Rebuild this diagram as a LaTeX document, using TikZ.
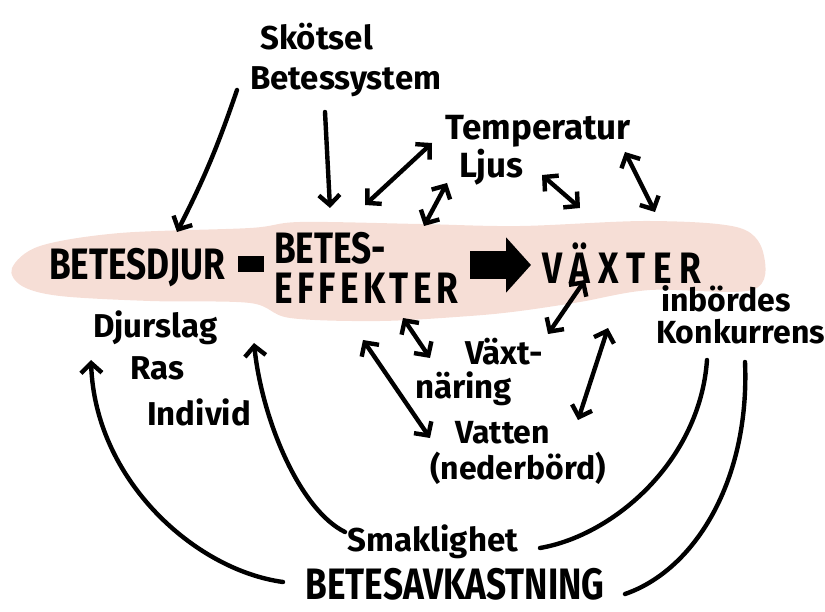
\documentclass[tikz,border=0pt]{standalone}
\usepackage{fontspec}
\setmainfont{Fira Sans}
\newfontfamily\capfont{Fira Sans}[FakeStretch=0.8]
\usetikzlibrary{arrows.meta}
\definecolor{bandpink}{RGB}{246,222,214}
\tikzset{
  lbl/.style={font=\fontsize{33}{40}\selectfont\bfseries, inner sep=0pt, align=left},
  capbox/.style={font=\capfont\fontsize{44}{40}\selectfont\bfseries, inner sep=0pt, align=left},
  arr/.style={line width=4.4pt, line cap=round, -{Straight Barb[length=10pt,width=21pt]}},
  darr/.style={line width=4.4pt, line cap=round, {Straight Barb[length=10pt,width=21pt]}-{Straight Barb[length=10pt,width=21pt]}},
  plainline/.style={line width=4.4pt, line cap=round}
}
\begin{document}
\begin{tikzpicture}[x=1pt,y=-1pt]
\useasboundingbox (0,0) rectangle (825,612);
% pink band
\fill[bandpink] plot[smooth cycle, tension=0.55] coordinates {
  (12,268) (40,246) (120,233) (250,228) (300,222) (420,224) (520,226)
  (650,221) (740,228) (764,256) (752,290) (650,290) (580,302) (520,311)
  (470,316) (380,321) (290,318) (250,303) (150,301) (60,296) (22,286)};
% nodes
\node[lbl, anchor=west] (skotsel) at (250,60) {\hspace*{10pt}Skötsel\\Betessystem};
\node[capbox] (djur) at (137,268) {BETESDJUR};
\node[capbox, anchor=west] (eff) at (274,268) {BETES-\\\addfontfeature{LetterSpace=10}EFFEKTER};
\node[capbox] (vax) at (622,263) {\addfontfeature{LetterSpace=18}VÄXTER};
\node[lbl, font=\fontsize{35}{38}\selectfont\bfseries, anchor=west] (temp) at (445,150) {Temperatur\\\hspace*{14pt}Ljus};
\node[lbl, anchor=west, font=\fontsize{32}{32}\selectfont\bfseries] (konk) at (656,315) {\hspace*{5pt}inbördes\\Konkurrens};
\node[lbl, anchor=west] (djurslag) at (93,328) {Djurslag};
\node[lbl, anchor=west] (ras) at (130,368) {Ras};
\node[lbl, anchor=west] (individ) at (147,412) {Individ};
\node[lbl, anchor=west, font=\fontsize{33}{34}\selectfont\bfseries] (naring) at (415,372) {\hspace*{50pt}Växt-\\näring};
\node[lbl, anchor=west, font=\fontsize{32}{36}\selectfont\bfseries] (vatten) at (430,453) {\hspace*{25pt}Vatten\\(nederbörd)};
\node[lbl] (smak) at (433,542) {Smaklighet};
\node[capbox] (avk) at (455,584) {BETESAVKASTNING};
% connector end points
\coordinate (s1) at (237,90);   \coordinate (d1) at (177,232);
\coordinate (s2) at (325,112);  \coordinate (d2) at (330,208);
\coordinate (t1) at (432,143);  \coordinate (e1) at (365,205);
\coordinate (l1) at (447,183);  \coordinate (e2) at (424,226);
\coordinate (l2) at (542,175);  \coordinate (v1) at (580,208);
\coordinate (t2) at (625,152);  \coordinate (v2) at (655,212);
\coordinate (v3) at (585,280);  \coordinate (n1) at (548,334);
\coordinate (e3) at (403,318);  \coordinate (n2) at (430,358);
\coordinate (e4) at (363,340);  \coordinate (w1) at (430,438);
\coordinate (k1) at (608,328);  \coordinate (w2) at (578,420);
\coordinate (a1) at (283,582);  \coordinate (ds) at (91,360);
\coordinate (sm1) at (345,532); \coordinate (in1) at (254,343);
\coordinate (k2) at (707,360);  \coordinate (sm2) at (540,548);
\coordinate (k3) at (745,362);  \coordinate (a2) at (625,594);
% connectors
\draw[arr] (s1) to[bend left=4] (d1);
\draw[arr] (s2) -- (d2);
\draw[darr] (e1) -- (t1);
\draw[darr] (e2) -- (l1);
\draw[darr] (l2) -- (v1);
\draw[darr] (t2) -- (v2);
\draw[darr] (v3) -- (n1);
\draw[darr] (e3) -- (n2);
\draw[darr] (e4) -- (w1);
\draw[darr] (k1) -- (w2);
\draw[arr] (a1) .. controls (195,570) and (95,480) .. (ds);
\draw[arr] (sm1) .. controls (300,510) and (262,420) .. (in1);
\draw[plainline] (k2) .. controls (700,460) and (615,535) .. (sm2);
\draw[plainline] (k3) .. controls (750,480) and (695,570) .. (a2);
% thick bar and block arrow
\draw[line width=16pt] (238,264) -- (264,264);
\draw[line width=28pt, -{Triangle[length=25pt,width=54pt]}] (470,265) -- (531,265);
\end{tikzpicture}
\end{document}
